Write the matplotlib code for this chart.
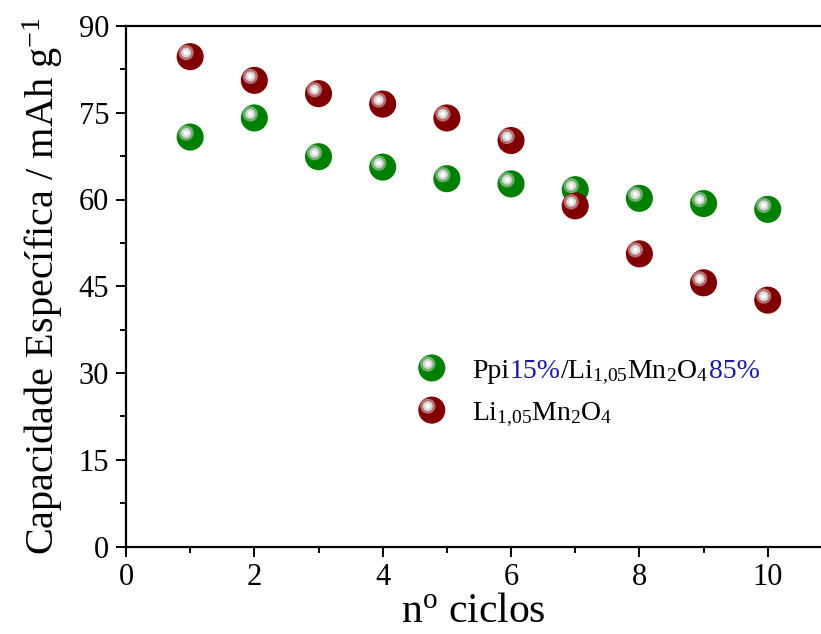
import matplotlib.pyplot as plt
import matplotlib.transforms as mtransforms
from matplotlib.ticker import MultipleLocator

plt.switch_backend("Agg")

# --- dados ---
ciclos = [1, 2, 3, 4, 5, 6, 7, 8, 9, 10]
cap_ppi = [70.8, 74.1, 67.4, 65.6, 63.6, 62.7, 61.7, 60.2, 59.3, 58.3]
cap_lmo = [84.7, 80.6, 78.3, 76.5, 74.1, 70.2, 58.9, 50.6, 45.6, 42.6]

plt.rcParams["font.family"] = ["Liberation Serif", "DejaVu Serif"]
plt.rcParams["mathtext.fontset"] = "custom"
plt.rcParams["mathtext.rm"] = "Liberation Serif"
plt.rcParams["mathtext.it"] = "Liberation Serif:italic"

fig = plt.figure(figsize=(8.21, 6.34), dpi=100)
ax = fig.add_axes([126 / 821, 1 - 546.5 / 634, 1 - 126 / 821, (546.5 - 26) / 634])


def sphere(ax, x, y, base, halo, xy_axes=False):
    # esfera com brilho: base + camadas mais claras deslocadas
    tr0 = ax.transAxes if xy_axes else ax.transData
    ax.scatter(x, y, s=380, color=base, edgecolors="none", transform=tr0, zorder=3, clip_on=False)
    off = mtransforms.ScaledTranslation(-4 / 100, 4 / 100, fig.dpi_scale_trans)
    ax.scatter(x, y, s=120, color=halo, edgecolors="none", transform=tr0 + off, zorder=4, clip_on=False)
    ax.scatter(x, y, s=50, color="#d8d8d8", edgecolors="none", transform=tr0 + off, zorder=5, clip_on=False)
    ax.scatter(x, y, s=12, color="white", edgecolors="none", transform=tr0 + off, zorder=6, clip_on=False)


sphere(ax, ciclos, cap_ppi, "#008000", "#6fb06f")
sphere(ax, ciclos, cap_lmo, "#800000", "#b87070")

ax.set_xlim(0, 10.83)
ax.set_ylim(0, 90)
ax.xaxis.set_major_locator(MultipleLocator(2))
ax.xaxis.set_minor_locator(MultipleLocator(1))
ax.yaxis.set_major_locator(MultipleLocator(15))
ax.yaxis.set_minor_locator(MultipleLocator(7.5))
ax.tick_params(which="major", direction="out", length=7, width=1.4, labelsize=22, pad=5)
ax.tick_params(which="minor", direction="out", length=4, width=1.4)
for s in ["left", "bottom", "top"]:
    ax.spines[s].set_linewidth(1.6)
ax.spines["right"].set_visible(False)

ax.set_ylabel(r"Capacidade Específica / mAh g$^{\mathregular{-1}}$", fontsize=29, labelpad=10)
ax.set_xlabel(r"n$^{\mathregular{o}}$ ciclos", fontsize=30, labelpad=0)

# --- legenda manual ---
sphere(ax, [0.44], [0.343], "#008000", "#6fb06f", xy_axes=True)
sphere(ax, [0.44], [0.262], "#800000", "#b87070", xy_axes=True)

blue = "#1a1aa6"
lmo = r"Li$_{\mathregular{1{,}05}}$Mn$_{\mathregular{2}}$O$_{\mathregular{4}}$"
pieces = [("Ppi", "black"), ("15%", blue), ("/" + lmo, "black"), ("85%", blue)]
x0 = 0.498
yb = 0.324
prev = None
for txt, col in pieces:
    if prev is None:
        prev = ax.text(x0, yb, txt, color=col, fontsize=20, transform=ax.transAxes, va="baseline")
    else:
        prev = ax.annotate(txt, xy=(1, yb), xycoords=(prev, "axes fraction"),
                           color=col, fontsize=20, va="baseline")
ax.text(x0, 0.243, lmo, fontsize=20, transform=ax.transAxes, va="baseline")

fig.savefig("out.png", dpi=100)
